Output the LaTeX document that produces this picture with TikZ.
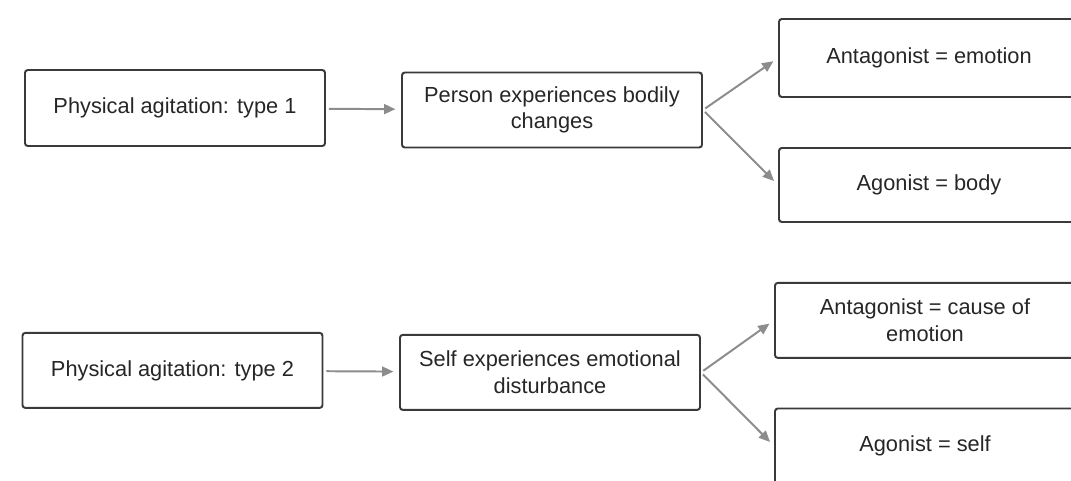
\documentclass[tikz,border=0pt]{standalone}
\usepackage{fontspec}
\setmainfont{Liberation Sans}
\usepackage{xcolor}
\usepackage{tikz}
\usetikzlibrary{
	arrows,
	arrows.meta
}

\definecolor{boxline}{HTML}{3A3A3A}
\definecolor{arrowgray}{HTML}{8C8C8C}

\begin{document}
\begin{tikzpicture}[
		box/.style={draw=boxline,line width=1.4pt,rounded corners=2pt,align=center,
			minimum width=7.5cm,minimum height=1.9cm,inner sep=2pt,
			text=black!85,font=\fontsize{15.5}{19}\selectfont},
		link/.style={draw=arrowgray,line width=1.4pt,
			-{Triangle[length=8pt,width=7pt,fill=arrowgray]},
			shorten <=2pt,shorten >=4pt}
	]
		\useasboundingbox (0, 0) rectangle (26.775, -12);

		\node[box] at (4.375, -2.7) (agitation-one)
			{Physical agitation: type 1};
		\node[box,minimum height=1.875cm] at (13.8, -2.75) (bodily-changes)
			{Person experiences bodily \\ changes};
		\node[box,minimum height=1.95cm] at (23.225, -1.45) (antagonist-emotion)
			{Antagonist = emotion};
		\node[box,minimum height=1.85cm] at (23.225, -4.625) (agonist-body)
			{Agonist = body};

		\node[box,minimum height=1.875cm] at (4.3125, -9.26) (agitation-two)
			{Physical agitation: type 2};
		\node[box,minimum height=1.875cm] at (13.75, -9.31) (emotional-disturbance)
			{Self experiences emotional \\ disturbance};
		\node[box,minimum height=1.875cm] at (23.125, -8.01) (antagonist-cause)
			{Antagonist = cause of \\ emotion};
		\node[box,minimum height=1.875cm] at (23.125, -11.15) (agonist-self)
			{Agonist = self};

		\draw[link] (agitation-one) -> (bodily-changes);
		\draw[link] (bodily-changes.east) -> (antagonist-emotion.west);
		\draw[link] (bodily-changes.east) -> (agonist-body.west);

		\draw[link] (agitation-two) -> (emotional-disturbance);
		\draw[link] (emotional-disturbance.east) -> (antagonist-cause.west);
		\draw[link] (emotional-disturbance.east) -> (agonist-self.west);
	\end{tikzpicture}
\end{document}
